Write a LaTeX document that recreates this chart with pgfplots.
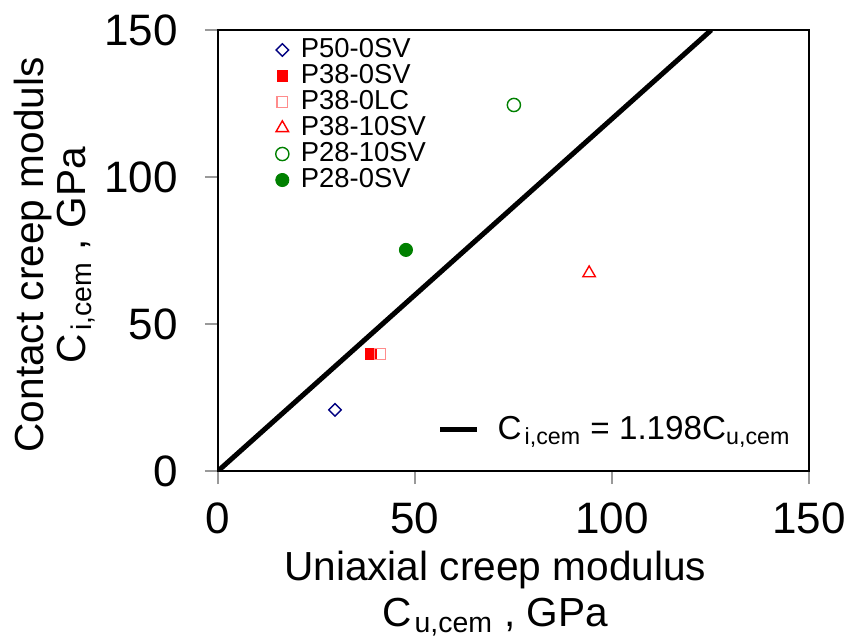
\documentclass[border=0pt]{standalone}
\usepackage{fontspec}
\setmainfont{Liberation Sans}
\usepackage{pgfplots}
\pgfplotsset{compat=1.18}
\definecolor{navyb}{RGB}{0,0,128}
\definecolor{pinkr}{RGB}{255,140,140}
\definecolor{dgreen}{RGB}{0,128,0}
\begin{document}
\begin{tikzpicture}
\path[use as bounding box] (-109pt,-86pt) rectangle (316.5pt,235.5pt);
\begin{axis}[
  at={(0,0)}, anchor=south west,
  scale only axis, width=295.5pt, height=220.5pt,
  xmin=0, xmax=150, ymin=0, ymax=150,
  xtick={0,50,100,150}, ytick={0,50,100,150},
  tick pos=left, tick align=outside, major tick length=6.5pt,
  tick style={gray!80, line width=0.6pt},
  axis line style={black, line width=1pt},
  /pgf/number format/assume math mode=true,
  ticklabel style={font=\fontsize{22}{24}\selectfont},
  xticklabel style={yshift=-6pt},
  yticklabel style={xshift=-10pt},
  xlabel={Uniaxial creep modulus\\C\kern1.5pt\textsubscript{u,cem} , GPa},
  xlabel style={at={(axis description cs:0.469,-0.18)}, anchor=north, align=center, inner sep=0pt, font=\fontsize{20.3}{23}\selectfont},
  ylabel={Contact creep moduls\\C\kern1.5pt\textsubscript{i,cem} , GPa},
  ylabel style={at={(axis description cs:-0.276,0.49)}, anchor=center, align=center, inner sep=0pt, font=\fontsize{20.3}{21}\selectfont},
  legend style={at={(axis description cs:0.097,0.985)}, anchor=north west, draw=none, fill=none,
    font=\fontsize{13.7}{15}\selectfont, row sep=0pt, column sep=6pt, inner sep=0pt,
    nodes={inner sep=0pt, text height=10pt, text depth=3pt}},
  legend cell align=left,
]
\addplot[only marks, mark=square, mark size=2.2pt, navyb, mark options={line width=0.7pt, rotate=45}] coordinates {(29.7,20.8)};
\addlegendentry{P50-0SV}
\addplot[only marks, mark=square*, mark size=2.7pt, red] coordinates {(38.8,39.8)};
\addlegendentry{P38-0SV}
\addplot[only marks, mark=square, mark size=2.7pt, pinkr, mark options={line width=0.7pt}] coordinates {(41.1,39.8)};
\addlegendentry{P38-0LC}
\addplot[only marks, mark=triangle, mark size=3.6pt, red, mark options={line width=0.7pt}] coordinates {(94.2,67.3)};
\addlegendentry{P38-10SV}
\addplot[only marks, mark=o, mark size=3.3pt, dgreen, mark options={line width=0.7pt}] coordinates {(75.1,124.5)};
\addlegendentry{P28-10SV}
\addplot[only marks, mark=*, mark size=3.3pt, dgreen] coordinates {(47.7,75.2)};
\addlegendentry{P28-0SV}
\end{axis}
\begin{axis}[
  at={(0,0)}, anchor=south west,
  scale only axis, width=295.5pt, height=220.5pt,
  xmin=0, xmax=150, ymin=0, ymax=150,
  xtick=\empty, ytick=\empty,
  minor xtick={10,20,30,40,60,70,80,90,110,120,130,140},
  minor ytick={10,20,30,40,60,70,80,90,110,120,130,140},
  tick pos=left, tick align=inside, minor tick length=5pt,
  minor tick style={gray!80, line width=0.6pt},
  axis line style={draw=none},
  legend style={at={(axis description cs:0.976,0.055)}, anchor=south east, draw=none, fill=none,
    column sep=7pt, inner sep=0pt,
    font=\fontsize{16.6}{18}\selectfont},
  legend image code/.code={\draw[#1] (0pt,0pt) -- (18.5pt,0pt);},
]
\addplot[black, line width=2.5pt] coordinates {(0,0) (125.2,150)};
\addlegendentry{C\kern1.5pt\textsubscript{i,cem} = 1.198C\textsubscript{u,cem}}
\end{axis}
\end{tikzpicture}
\end{document}
